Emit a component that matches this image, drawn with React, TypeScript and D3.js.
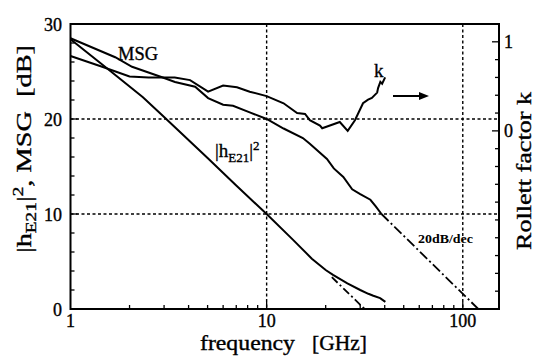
import React from 'react';
import * as d3 from 'd3';

// |h21|^2 (dB) vs frequency (GHz)
const h21Freq = [1, 1.5, 2.34, 3, 5, 7, 10, 13.6, 17, 20, 21.8, 25.8, 30, 33, 35, 37.9, 40.3];
const h21Db = [28.4, 25.5, 22.3, 20.2, 15.9, 13.0, 10.0, 7.3, 5.3, 4.1, 3.6, 2.7, 2.0, 1.6, 1.4, 1.15, 0.75];
// 20 dB/dec extrapolation of |h21|^2
const h21ExtFreq = [21.5, 31.6];
const h21ExtDb = [3.35, 0];

// MSG (dB)
const msgFreq = [1, 1.69, 2.06, 2.93, 3.41, 4.32, 5.03, 6.0, 6.74, 8.2, 10, 12.2, 15.3, 16.6, 20.3, 22, 24.6, 27.3, 30, 33.8, 36, 38.5];
const msgDb = [28.5, 26.5, 25.5, 24.4, 23.9, 23.4, 22.2, 21.5, 21.4, 20.7, 20.0, 19.0, 18.0, 17.4, 15.8, 14.8, 13.9, 12.6, 12.1, 11.5, 10.8, 10.0];
// 20 dB/dec extrapolation of MSG
const msgExtFreq = [38.5, 120];
const msgExtDb = [10.0, 0];

// Rollett stability factor k (right axis)
const kFreq = [1, 1.45, 2.0, 2.5, 3.4, 4.07, 5.03, 6.0, 7.06, 8.2, 10, 12.2, 14.3, 15.7, 16.6, 18.7, 19.2, 23.6, 25.9, 28.2, 31, 32.9, 34.4, 36.6, 37, 38, 38.8, 40.2];
const kVal = [0.84, 0.72, 0.61, 0.6, 0.6, 0.57, 0.44, 0.51, 0.49, 0.44, 0.39, 0.31, 0.2, 0.19, 0.12, 0.06, 0.03, 0.1, 0.0, 0.12, 0.31, 0.35, 0.37, 0.43, 0.48, 0.55, 0.53, 0.6];

const xDomain = [1, 153];
const yDomain = [0, 30];
const kDomain = [-2, 1.2];
const yMajorTicks = [0, 10, 20, 30];
const xMajorTicks = [1, 10, 100];
const kLabelTicks = [0, 1];
const xGrid = [10, 100];
const yGrid = [10, 20];

const FONT = '"Liberation Serif", "Times New Roman", serif';

export default function App() {
  const L = 70.5, R = 499, T = 24, B = 309;
  const x = d3.scaleLog().domain(xDomain).range([L, R]);
  const y = d3.scaleLinear().domain(yDomain).range([B, T]);
  const k = d3.scaleLinear().domain(kDomain).range([B, T]);

  const line = d3.line<[number, number]>().x(d => x(d[0])).y(d => y(d[1]));
  const kLine = d3.line<[number, number]>().x(d => x(d[0])).y(d => k(d[1]));
  const zip = (a: number[], b: number[]) => a.map((v, i) => [v, b[i]] as [number, number]);

  const yMinor = d3.range(0, 31, 2);
  const kMinor = d3.range(-2, 1.21, 0.2);
  const xMinor = x.ticks().filter(t => t > 1 && t < 150);

  const ts = { stroke: '#000', strokeWidth: 0.35 };

  return (
    <svg width={535} height={358} style={{ position: 'absolute', left: 0, top: 0, background: '#fff' }} fontFamily={FONT}>
      <rect x={0} y={0} width={535} height={358} fill="#fff" />
      {/* grid */}
      {xGrid.map(g => (
        <line key={'xg' + g} x1={x(g)} x2={x(g)} y1={T} y2={B} stroke="#000" strokeWidth={1.4} strokeDasharray="3,2.5" />
      ))}
      {yGrid.map(g => (
        <line key={'yg' + g} x1={L} x2={R} y1={y(g)} y2={y(g)} stroke="#000" strokeWidth={1.4} strokeDasharray="3,2.5" />
      ))}
      {/* ticks */}
      {yMinor.map(t => (
        <line key={'ym' + t} x1={L} x2={L + (t % 10 === 0 ? 7 : 4)} y1={y(t)} y2={y(t)} stroke="#000" strokeWidth={1.3} />
      ))}
      {kMinor.map((t, i) => (
        <line key={'km' + i} x1={R} x2={R - (Math.abs(t) < 1e-6 || Math.abs(t - 1) < 1e-6 ? 7 : 4)} y1={k(t)} y2={k(t)} stroke="#000" strokeWidth={1.3} />
      ))}
      {xMinor.map((t, i) => (
        <line key={'xm' + i} x1={x(t)} x2={x(t)} y1={B} y2={B - (t === 10 || t === 100 ? 7 : 4)} stroke="#000" strokeWidth={1.3} />
      ))}
      {/* frame */}
      <rect x={L} y={T} width={R - L} height={B - T} fill="none" stroke="#000" strokeWidth={2} />

      {/* curves */}
      <path d={line(zip(h21Freq, h21Db)) || ''} fill="none" stroke="#000" strokeWidth={2} />
      <path d={line(zip(h21ExtFreq, h21ExtDb)) || ''} fill="none" stroke="#000" strokeWidth={1.8} strokeDasharray="8,3,2,3" />
      <path d={line(zip(msgFreq, msgDb)) || ''} fill="none" stroke="#000" strokeWidth={2} />
      <path d={line(zip(msgExtFreq, msgExtDb)) || ''} fill="none" stroke="#000" strokeWidth={1.8} strokeDasharray="10,3,2,3" />
      <path d={kLine(zip(kFreq, kVal)) || ''} fill="none" stroke="#000" strokeWidth={2} />

      {/* arrow for k -> right axis */}
      <line x1={393} x2={421} y1={96} y2={96} stroke="#000" strokeWidth={2} />
      <path d="M429,96 L419,92 L419,100 Z" fill="#000" />

      {/* left tick labels */}
      {yMajorTicks.map(t => (
        <text key={'yl' + t} x={62} y={y(t) + 6.5} textAnchor="end" fontSize={18} {...ts}>{t}</text>
      ))}
      {/* bottom tick labels */}
      {xMajorTicks.map(t => (
        <text key={'xl' + t} x={x(t)} y={327} textAnchor="middle" fontSize={18} {...ts}>{t}</text>
      ))}
      {/* right tick labels */}
      {kLabelTicks.map(t => (
        <text key={'kl' + t} x={504} y={k(t) + 6.5} textAnchor="start" fontSize={18} {...ts}>{t}</text>
      ))}

      {/* axis titles */}
      <text x={200} y={350} fontSize={20} textLength={95} lengthAdjust="spacingAndGlyphs" {...ts}>frequency</text>
      <text x={312} y={350} fontSize={20} textLength={55} lengthAdjust="spacingAndGlyphs" {...ts}>[GHz]</text>

      <text transform="translate(31,253) rotate(-90)" fontSize={22} style={{ whiteSpace: 'pre' }} textLength={208} lengthAdjust="spacingAndGlyphs" {...ts}>
        <tspan>|h</tspan>
        <tspan dy={5} fontSize={15}>E21</tspan>
        <tspan dy={-5}>|</tspan>
        <tspan dy={-8} fontSize={15}>2</tspan>
        <tspan dy={8}>, MSG  [dB]</tspan>
      </text>

      <text transform="translate(531,250) rotate(-90)" fontSize={22} textLength={158} lengthAdjust="spacingAndGlyphs" {...ts}>Rollett factor k</text>

      {/* in-plot labels */}
      <text x={118} y={60} fontSize={19} textLength={40} lengthAdjust="spacingAndGlyphs" {...ts}>MSG</text>
      <text x={215} y={157} fontSize={19} {...ts}>
        <tspan>|h</tspan>
        <tspan dy={5} fontSize={13}>E21</tspan>
        <tspan dy={-5}>|</tspan>
        <tspan dy={-7} fontSize={13}>2</tspan>
      </text>
      <text x={374} y={77} fontSize={19} {...ts}>k</text>
      <text x={418} y={243} fontSize={13} fontWeight="bold" textLength={55} lengthAdjust="spacingAndGlyphs">20dB/dec</text>
    </svg>
  );
}
